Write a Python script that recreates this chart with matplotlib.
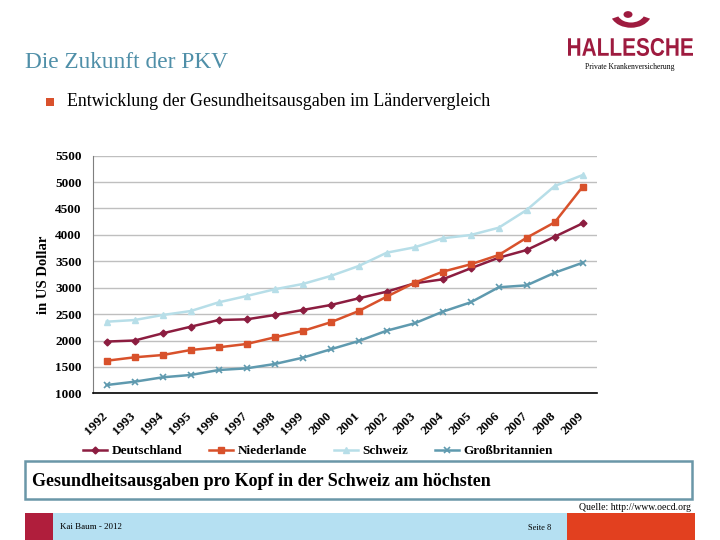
import numpy as np
import matplotlib
matplotlib.use("Agg")
from matplotlib import pyplot as plt
from matplotlib.patches import Rectangle, Circle, Wedge, PathPatch
from matplotlib.textpath import TextPath
from matplotlib.font_manager import FontProperties
from matplotlib.transforms import Affine2D, ScaledTranslation

# values (US Dollar per head)
years = [str(y) for y in range(1992, 2010)]
deutschland = [1980, 2000, 2136, 2261, 2388, 2401, 2483, 2578, 2672, 2799,
               2925, 3083, 3159, 3367, 3568, 3714, 3966, 4220]
niederlande = [1617, 1682, 1725, 1820, 1871, 1934, 2060, 2180, 2345, 2558,
               2830, 3095, 3303, 3443, 3619, 3947, 4238, 4913]
schweiz = [2356, 2388, 2483, 2558, 2723, 2843, 2970, 3070, 3222, 3411,
           3663, 3765, 3936, 3998, 4136, 4472, 4926, 5134]
grossbritannien = [1157, 1220, 1303, 1347, 1441, 1473, 1555, 1674, 1833, 1990,
                   2186, 2326, 2546, 2723, 3008, 3045, 3284, 3473]
series_names = ["Deutschland", "Niederlande", "Schweiz", "Großbritannien"]

serif = ["Liberation Serif", "DejaVu Serif"]
c_de = "#8C1D40"
c_nl = "#D8512B"
c_ch = "#B7DEE8"
c_gb = "#5F9AAF"

fig = plt.figure(figsize=(7.2, 5.4), dpi=100)
W, H = 720.0, 540.0

def fx(px):
    return px / W

def fy(py):
    return 1 - py / H

# header
fig.text(fx(25), fy(62), "Die Zukunft der PKV", family=serif, fontsize=16.8,
         color="#4F8FA8", va="center", ha="left")
fig.patches.append(Rectangle((fx(46), fy(106)), fx(8), 8 / H, transform=fig.transFigure,
                             facecolor="#D9512C", edgecolor="none"))
fig.text(fx(67), fy(102), "Entwicklung der Gesundheitsausgaben im Ländervergleich",
         family=serif, fontsize=12.9, color="black", va="center", ha="left")

# logo (text squeezed horizontally like the original wordmark)
logo_red = "#9E1B3F"
tp = TextPath((0, 0), "HALLESCHE", size=10,
              prop=FontProperties(family="Liberation Sans", weight="bold"))
ext = tp.get_extents()
sx = (693 - 568) / ext.width
sy = (56 - 38) / ext.height
tr = Affine2D().translate(-ext.x0, -ext.y0).scale(sx, sy).translate(568, H - 56)
fig.patches.append(PathPatch(tr.transform_path(tp), transform=None,
                             facecolor=logo_red, edgecolor="none"))
fig.text(fx(630), fy(67), "Private Krankenversicherung", family=serif, fontsize=5.5,
         color="black", ha="center", va="center")
fig.patches.append(Circle((fx(628), fy(14.5)), 4.5 / W, transform=fig.transFigure,
                          facecolor=logo_red, edgecolor="none"))
fig.patches.append(Wedge((fx(631), fy(12)), 21 / W, 205, 335, width=7 / W,
                         transform=fig.transFigure, facecolor=logo_red, edgecolor="none"))

# chart
ax = fig.add_axes([fx(92.7), fy(393.3), (596.7 - 92.7) / W, (393.3 - 155.7) / H])
x = np.arange(len(years))
ax.plot(x, deutschland, color=c_de, lw=1.8, marker="D", ms=3.5, label=series_names[0])
ax.plot(x, niederlande, color=c_nl, lw=1.8, marker="s", ms=4.5, label=series_names[1])
ax.plot(x, schweiz, color=c_ch, lw=1.8, marker="^", ms=4.5, label=series_names[2])
ax.plot(x, grossbritannien, color=c_gb, lw=1.8, marker="x", ms=4.5, mew=1.2,
        label=series_names[3])

ax.set_xlim(-0.5, len(years) - 0.5)
ax.set_ylim(1000, 5500)
ax.set_yticks(np.arange(1000, 5501, 500))
ax.set_xticks(x)
ax.set_xticklabels(years, rotation=45, ha="right", va="top", rotation_mode="anchor")
ax.grid(axis="y", color="#BFBFBF", lw=1)
ax.set_axisbelow(True)
for s in ["top", "right"]:
    ax.spines[s].set_visible(False)
ax.spines["bottom"].set_color("black")
ax.spines["bottom"].set_linewidth(1.2)
ax.spines["left"].set_color("#7F7F7F")
ax.tick_params(axis="both", length=0, labelsize=9.5)
ax.tick_params(axis="y", pad=8)
ax.tick_params(axis="x", pad=12)
shift = ScaledTranslation(-5 / 100, 0, fig.dpi_scale_trans)
for lab in ax.get_xticklabels():
    lab.set_transform(lab.get_transform() + shift)
for lab in ax.get_xticklabels() + ax.get_yticklabels():
    lab.set_family(serif)
    lab.set_fontweight("bold")
ax.set_ylabel("in US Dollar", family=serif, fontweight="bold", fontsize=10.5)
ax.yaxis.set_label_coords((50 - 92.7) / (596.7 - 92.7), 0.5)

handles, labels = ax.get_legend_handles_labels()
fig.legend(handles, labels, loc="center", bbox_to_anchor=(fx(318), fy(451)), ncol=4,
           frameon=False, prop={"family": serif, "weight": "bold", "size": 9.5},
           handlelength=1.8, handletextpad=0.35, columnspacing=2.05)

# highlight box
fig.patches.append(Rectangle((fx(25), fy(499)), fx(692 - 25), (499 - 461) / H,
                             transform=fig.transFigure, facecolor="white",
                             edgecolor="#6A97A8", lw=1.8))
fig.text(fx(32), fy(481), "Gesundheitsausgaben pro Kopf in der Schweiz am höchsten",
         family=serif, fontsize=13, fontweight="bold", va="center", ha="left")
fig.text(fx(691), fy(507), "Quelle: http://www.oecd.org", family=serif, fontsize=7,
         va="center", ha="right")

# footer
fig.patches.append(Rectangle((fx(25), 0), fx(53 - 25), 27 / H,
                             transform=fig.transFigure, facecolor="#B01E3C", edgecolor="none"))
fig.patches.append(Rectangle((fx(53), 0), fx(567 - 53), 27 / H,
                             transform=fig.transFigure, facecolor="#B5E0F2", edgecolor="none"))
fig.patches.append(Rectangle((fx(567), 0), fx(695 - 567), 27 / H,
                             transform=fig.transFigure, facecolor="#E2401F", edgecolor="none"))
fig.text(fx(60), fy(527), "Kai Baum - 2012", family=serif, fontsize=6.5, va="center", ha="left")
fig.text(fx(528), fy(528), "Seite 8", family=serif, fontsize=6, va="center", ha="left")

fig.savefig("out.png", dpi=100)
